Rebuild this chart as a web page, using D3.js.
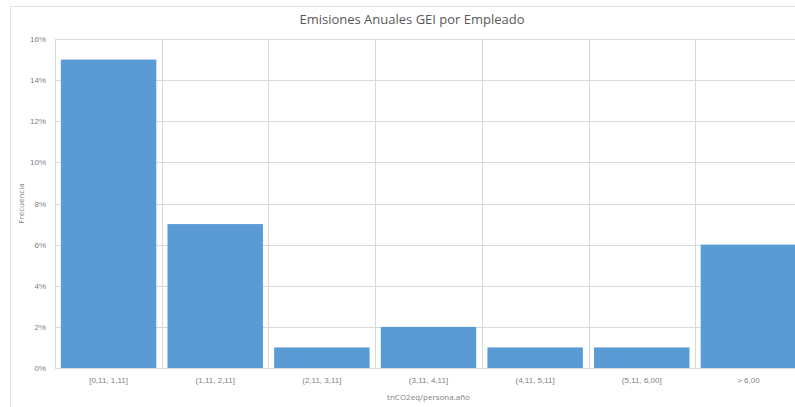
<!DOCTYPE html>
<html><head><meta charset="utf-8">
<script src="https://cdn.jsdelivr.net/npm/d3@7"></script>
<style>body{margin:0;background:#fff;}svg{display:block;font-family:"Open Sans","Liberation Sans",sans-serif;}</style>
</head><body>
<svg id="c" width="795" height="407"></svg>
<script>
const categories = ["[0,11, 1,11]", "(1,11, 2,11]", "(2,11, 3,11]", "(3,11, 4,11]", "(4,11, 5,11]", "(5,11, 6,00]", "> 6,00"];
const values = [15, 7, 1, 2, 1, 1, 6];
const yTicks = [0, 2, 4, 6, 8, 10, 12, 14, 16];
const title = "Emisiones Anuales GEI por Empleado";
const xTitle = "tnCO2eq/persona.año";
const yTitle = "Frecuencia";

const svg = d3.select("#c");
const m = {left: 55, right: 802, top: 39, bottom: 368};
// chart border
svg.append("rect").attr("x", 10.5).attr("y", 6.5).attr("width", 800).attr("height", 420)
  .attr("fill", "none").attr("stroke", "#e3e3e3");

const x = d3.scaleBand().domain(categories).range([m.left, m.right]).paddingInner(0.105).paddingOuter(0.055);
const y = d3.scaleLinear().domain([0, 16]).range([m.bottom, m.top]);

// horizontal grid
svg.append("g").selectAll("line").data(yTicks).join("line")
  .attr("x1", m.left).attr("x2", m.right)
  .attr("y1", d => Math.round(y(d)) + 0.5).attr("y2", d => Math.round(y(d)) + 0.5)
  .attr("stroke", "#d9d9d9");
// vertical grid at category boundaries
const step = x.step();
const bounds = d3.range(categories.length + 1).map(i => m.left + (m.right - m.left) * i / categories.length);
svg.append("g").selectAll("line").data(bounds).join("line")
  .attr("x1", d => Math.round(d) + 0.5).attr("x2", d => Math.round(d) + 0.5)
  .attr("y1", m.top).attr("y2", m.bottom)
  .attr("stroke", "#d9d9d9");

// bars
svg.append("g").selectAll("rect").data(values).join("rect")
  .attr("x", (d, i) => x(categories[i]))
  .attr("width", x.bandwidth())
  .attr("y", d => y(d))
  .attr("height", d => y(0) - y(d))
  .attr("fill", "#5b9bd5");

// y axis
const yAxis = d3.axisLeft(y).tickValues(yTicks).tickFormat(d => d + "%").tickSize(0).tickPadding(9);
const yg = svg.append("g").attr("transform", `translate(${m.left},0)`).call(yAxis);
yg.select(".domain").remove();
yg.selectAll("text").attr("fill", "#7f7f7f").style("font-size", "8px");

// x axis
const xAxis = d3.axisBottom(x).tickSize(0).tickPadding(9);
const xg = svg.append("g").attr("transform", `translate(0,${m.bottom})`).call(xAxis);
xg.select(".domain").attr("stroke", "#d9d9d9");
xg.selectAll("text").attr("fill", "#7f7f7f").style("font-size", "8px");

// titles
svg.append("text").attr("x", 412).attr("y", 24).attr("text-anchor", "middle")
  .attr("fill", "#595959").style("font-size", "13px").text(title);
svg.append("text").attr("x", (m.left + m.right) / 2).attr("y", 400).attr("text-anchor", "middle")
  .attr("fill", "#7f7f7f").style("font-size", "8px").text(xTitle);
svg.append("text").attr("transform", `translate(24,${(m.top + m.bottom) / 2}) rotate(-90)`)
  .attr("text-anchor", "middle").attr("fill", "#7f7f7f").style("font-size", "8px").text(yTitle);
</script>
</body></html>
